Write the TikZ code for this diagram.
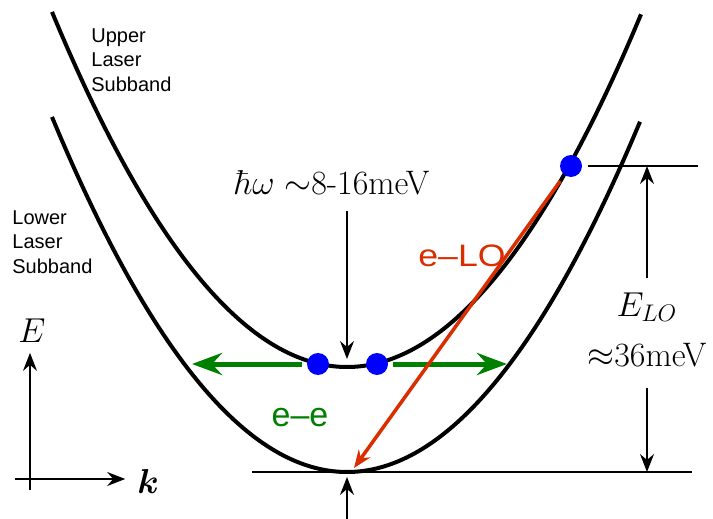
\documentclass[tikz,border=0pt]{standalone}
\usepackage{amsmath, amssymb}
\usepackage{fontspec}
\usepackage{graphicx}
\usepackage{xcolor}
\usepackage{tikz}
\usetikzlibrary{
    arrows.meta,
    calc
}

\newfontfamily\labelsans{Liberation Sans}
\definecolor{eegreen}{RGB}{0,128,0}
\definecolor{lored}{RGB}{218,45,0}
\definecolor{dotblue}{RGB}{0,0,255}

\begin{document}
\begin{tikzpicture}[
    x=0.5pt, y=-0.5pt,
    >={Stealth[length=9pt, width=7pt, inset=3pt]},
    band/.style={line width=2pt, black},
    thinline/.style={line width=0.7pt, black},
    thinarrow/.style={->, line width=0.7pt, black},
    axisarrow/.style={->, line width=0.7pt, black},
    eearrow/.style={-{Stealth[length=15pt, width=11pt, inset=5pt]}, line width=2.5pt, eegreen},
    loarrow/.style={->, line width=1.75pt, lored},
    electron/.style={circle, fill=dotblue, minimum size=11pt, inner sep=0pt},
    bandlabel/.style={font=\labelsans\fontsize{10}{12.25}\selectfont, align=left, inner sep=0pt, anchor=north west},
    mathlabel/.style={font=\fontsize{17}{25}\selectfont}
]

\useasboundingbox (0,0) rectangle (713,519);

% ==================== SUBBANDS ====================
\draw[band] plot[domain=52:641, samples=120, smooth] (\x, {367-40.8*((\x-347)/100)^2});
\draw[band] plot[domain=52:640, samples=120, smooth] (\x, {472-40.8*((\x-347)/100)^2});

\node[bandlabel] (upper) at (91,28) {Upper\\Laser\\Subband};
\node[bandlabel] (lower) at (12,210) {Lower\\Laser\\Subband};

\coordinate (upmin) at (347,367);
\coordinate (lowmin) at (347,472);
\coordinate (bottom) at (347,519);

% electrons
\node[electron] (eL) at (318,364) {};
\node[electron] (eR) at (377,364) {};
\node[electron] (eH) at (571,166) {};

% ==================== e-e SCATTERING ====================
\coordinate (eeL) at (192,364);
\coordinate (eeR) at (507,364);
\draw[eearrow, shorten <=2.5pt] (eL) -- (eeL);
\draw[eearrow, shorten <=2.5pt] (eR) -- (eeR);
\node[font=\labelsans\fontsize{17}{19}\selectfont, text=eegreen] (ee) at (300,418) {e–e};

% ==================== e-LO SCATTERING ====================
\coordinate (lotip) at (354,468);
\draw[loarrow, shorten <=3.5pt] (eH) -- (lotip);
\node[font=\labelsans\fontsize{15.5}{17}\selectfont, text=lored] (lo) at (462,256) {\scalebox{1.15}[1]{e–LO}};

% photon energy
\node[mathlabel, anchor=base, inner sep=0pt] (hw) at (332,195) {$\hbar\omega \sim$8-16meV};
\draw[thinarrow, shorten <=7.5pt, shorten >=4pt] (hw.south -| upmin) -- (upmin);
\draw[thinarrow, shorten >=2.5pt] (bottom) -- (lowmin);

% LO phonon energy
\coordinate (topR) at (698,166);
\coordinate (botL) at (252,472);
\coordinate (botR) at (692,472);
\draw[thinline, shorten <=3pt] (eH) -- (topR);
\draw[thinline] (botL) -- (botR);
\node[mathlabel, align=center, inner sep=7.5pt] (elo) at (647,330) {$E_{LO}$\\$\approx$36meV};
\draw[thinarrow] (elo.north) -- (elo.north |- topR);
\draw[thinarrow, shorten <=3pt] (elo.south) -- (elo.south |- botR);

% ==================== AXES ====================
\coordinate (Ebot) at (30,490);
\coordinate (kleft) at (15,479);
\node[mathlabel] (Elab) at (32,331) {$E$};
\node[mathlabel] (klab) at (148,481) {$\boldsymbol{k}$};
\draw[axisarrow, shorten >=1.5pt] (Ebot) -- (Ebot |- Elab.south);
\draw[axisarrow, shorten >=2.5pt] (kleft) -- (kleft -| klab.west);

\end{tikzpicture}
\end{document}
